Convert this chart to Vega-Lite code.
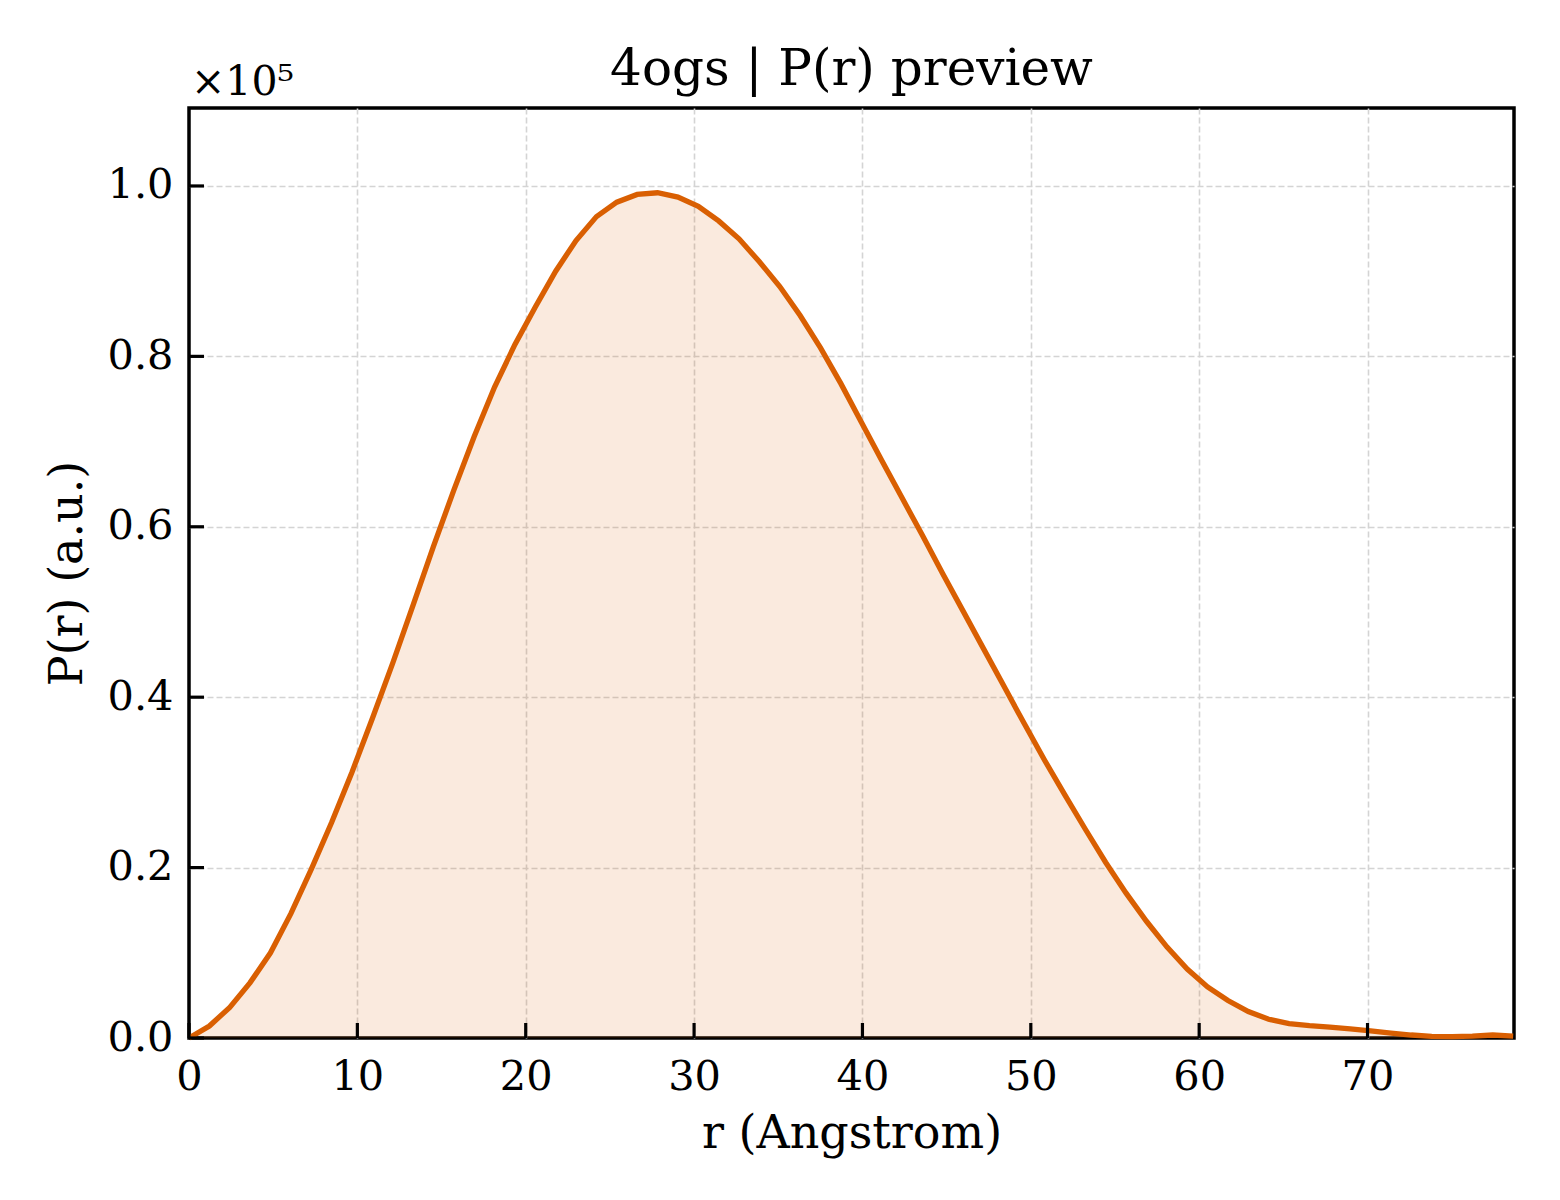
{
  "$schema": "https://vega.github.io/schema/vega-lite/v6.json",
  "autosize": {"type": "none"},
  "padding": {"left": 189, "top": 108, "right": 46, "bottom": 162},
  "width": 1325,
  "height": 930,
  "background": "white",
  "title": {"text": "4ogs | P(r) preview", "font": "DejaVu Serif", "fontSize": 50, "fontWeight": "normal", "color": "#000", "offset": -33, "anchor": "middle"},
  "config": {
    "view": {"stroke": "#000", "strokeWidth": 3.5},
    "axis": {
      "labelFont": "DejaVu Serif", "labelFontSize": 41.5, "labelColor": "#000",
      "titleFont": "DejaVu Serif", "titleFontSize": 46, "titleFontWeight": "normal", "titleColor": "#000",
      "domain": false, "ticks": false,
      "grid": true, "gridColor": "#d4d4d4", "gridWidth": 1.6, "gridDash": [6, 3]
    }
  },
  "datasets": {
    "pr": [
      {"r": 0.0, "P": 0},
      {"r": 1.21, "P": 1400},
      {"r": 2.42, "P": 3600},
      {"r": 3.63, "P": 6500},
      {"r": 4.84, "P": 10000},
      {"r": 6.05, "P": 14600},
      {"r": 7.26, "P": 19800},
      {"r": 8.47, "P": 25300},
      {"r": 9.68, "P": 31200},
      {"r": 10.89, "P": 37500},
      {"r": 12.1, "P": 44000},
      {"r": 13.31, "P": 50800},
      {"r": 14.52, "P": 57700},
      {"r": 15.73, "P": 64300},
      {"r": 16.94, "P": 70600},
      {"r": 18.15, "P": 76400},
      {"r": 19.36, "P": 81400},
      {"r": 20.57, "P": 85800},
      {"r": 21.78, "P": 90000},
      {"r": 22.99, "P": 93600},
      {"r": 24.2, "P": 96400},
      {"r": 25.41, "P": 98100},
      {"r": 26.62, "P": 99000},
      {"r": 27.83, "P": 99200},
      {"r": 29.04, "P": 98700},
      {"r": 30.25, "P": 97600},
      {"r": 31.46, "P": 95900},
      {"r": 32.67, "P": 93800},
      {"r": 33.88, "P": 91100},
      {"r": 35.09, "P": 88200},
      {"r": 36.3, "P": 84800},
      {"r": 37.51, "P": 81000},
      {"r": 38.72, "P": 76800},
      {"r": 39.93, "P": 72300},
      {"r": 41.14, "P": 67800},
      {"r": 42.35, "P": 63400},
      {"r": 43.56, "P": 59000},
      {"r": 44.77, "P": 54500},
      {"r": 45.98, "P": 50100},
      {"r": 47.19, "P": 45700},
      {"r": 48.4, "P": 41300},
      {"r": 49.61, "P": 36900},
      {"r": 50.82, "P": 32600},
      {"r": 52.03, "P": 28500},
      {"r": 53.24, "P": 24500},
      {"r": 54.45, "P": 20600},
      {"r": 55.66, "P": 17000},
      {"r": 56.87, "P": 13700},
      {"r": 58.08, "P": 10700},
      {"r": 59.29, "P": 8100},
      {"r": 60.5, "P": 6000},
      {"r": 61.71, "P": 4400},
      {"r": 62.92, "P": 3100},
      {"r": 64.13, "P": 2200},
      {"r": 65.34, "P": 1700},
      {"r": 66.55, "P": 1450},
      {"r": 67.76, "P": 1280},
      {"r": 68.97, "P": 1080},
      {"r": 70.18, "P": 830},
      {"r": 71.39, "P": 570},
      {"r": 72.6, "P": 350},
      {"r": 73.81, "P": 200},
      {"r": 75.02, "P": 150},
      {"r": 76.23, "P": 220},
      {"r": 77.44, "P": 350},
      {"r": 78.65, "P": 220}
    ],
    "xticks": [{"t": 0}, {"t": 10}, {"t": 20}, {"t": 30}, {"t": 40}, {"t": 50}, {"t": 60}, {"t": 70}],
    "yticks": [{"v": 0}, {"v": 20000}, {"v": 40000}, {"v": 60000}, {"v": 80000}, {"v": 100000}]
  },
  "data": {"name": "pr"},
  "layer": [
    {"mark": {"type": "area", "color": "#D95F02", "opacity": 0.13},
     "encoding": {
       "x": {"field": "r", "type": "quantitative",
         "scale": {"domain": [0, 78.7], "nice": false, "zero": false},
         "axis": {"title": "r (Angstrom)", "values": [0, 10, 20, 30, 40, 50, 60, 70], "labelPadding": 18, "titlePadding": 14, "labelFlush": false,
           "gridOpacity": {"condition": {"test": "datum.value === 0", "value": 0}, "value": 1}}},
       "y": {"field": "P", "type": "quantitative",
         "scale": {"domain": [0, 109150], "nice": false},
         "axis": {"title": "P(r) (a.u.)", "values": [0, 20000, 40000, 60000, 80000, 100000], "labelExpr": "format(datum.value / 100000, '.1f')", "labelPadding": 16, "titlePadding": 16, "labelFlush": false,
           "gridOpacity": {"condition": {"test": "datum.value === 0", "value": 0}, "value": 1}}}
     }},
    {"mark": {"type": "line", "color": "#D95F02", "strokeWidth": 5.3},
     "encoding": {"x": {"field": "r", "type": "quantitative"}, "y": {"field": "P", "type": "quantitative"}}},
    {"data": {"name": "xticks"},
     "mark": {"type": "rule", "color": "#000", "strokeWidth": 3.2},
     "encoding": {"x": {"field": "t", "type": "quantitative"}, "y": {"datum": 0}, "y2": {"datum": 1760}}},
    {"data": {"name": "yticks"},
     "mark": {"type": "rule", "color": "#000", "strokeWidth": 3.2},
     "encoding": {"y": {"field": "v", "type": "quantitative"}, "x": {"datum": 0}, "x2": {"datum": 0.89}}},
    {"data": {"values": [{"label": "×10⁵", "x": 0, "y": 109150}]},
     "mark": {"type": "text", "align": "left", "baseline": "alphabetic", "font": "DejaVu Serif", "fontSize": 41, "color": "#000", "dx": 2, "dy": -13},
     "encoding": {"x": {"field": "x", "type": "quantitative"}, "y": {"field": "y", "type": "quantitative"}, "text": {"field": "label"}}}
  ]
}
